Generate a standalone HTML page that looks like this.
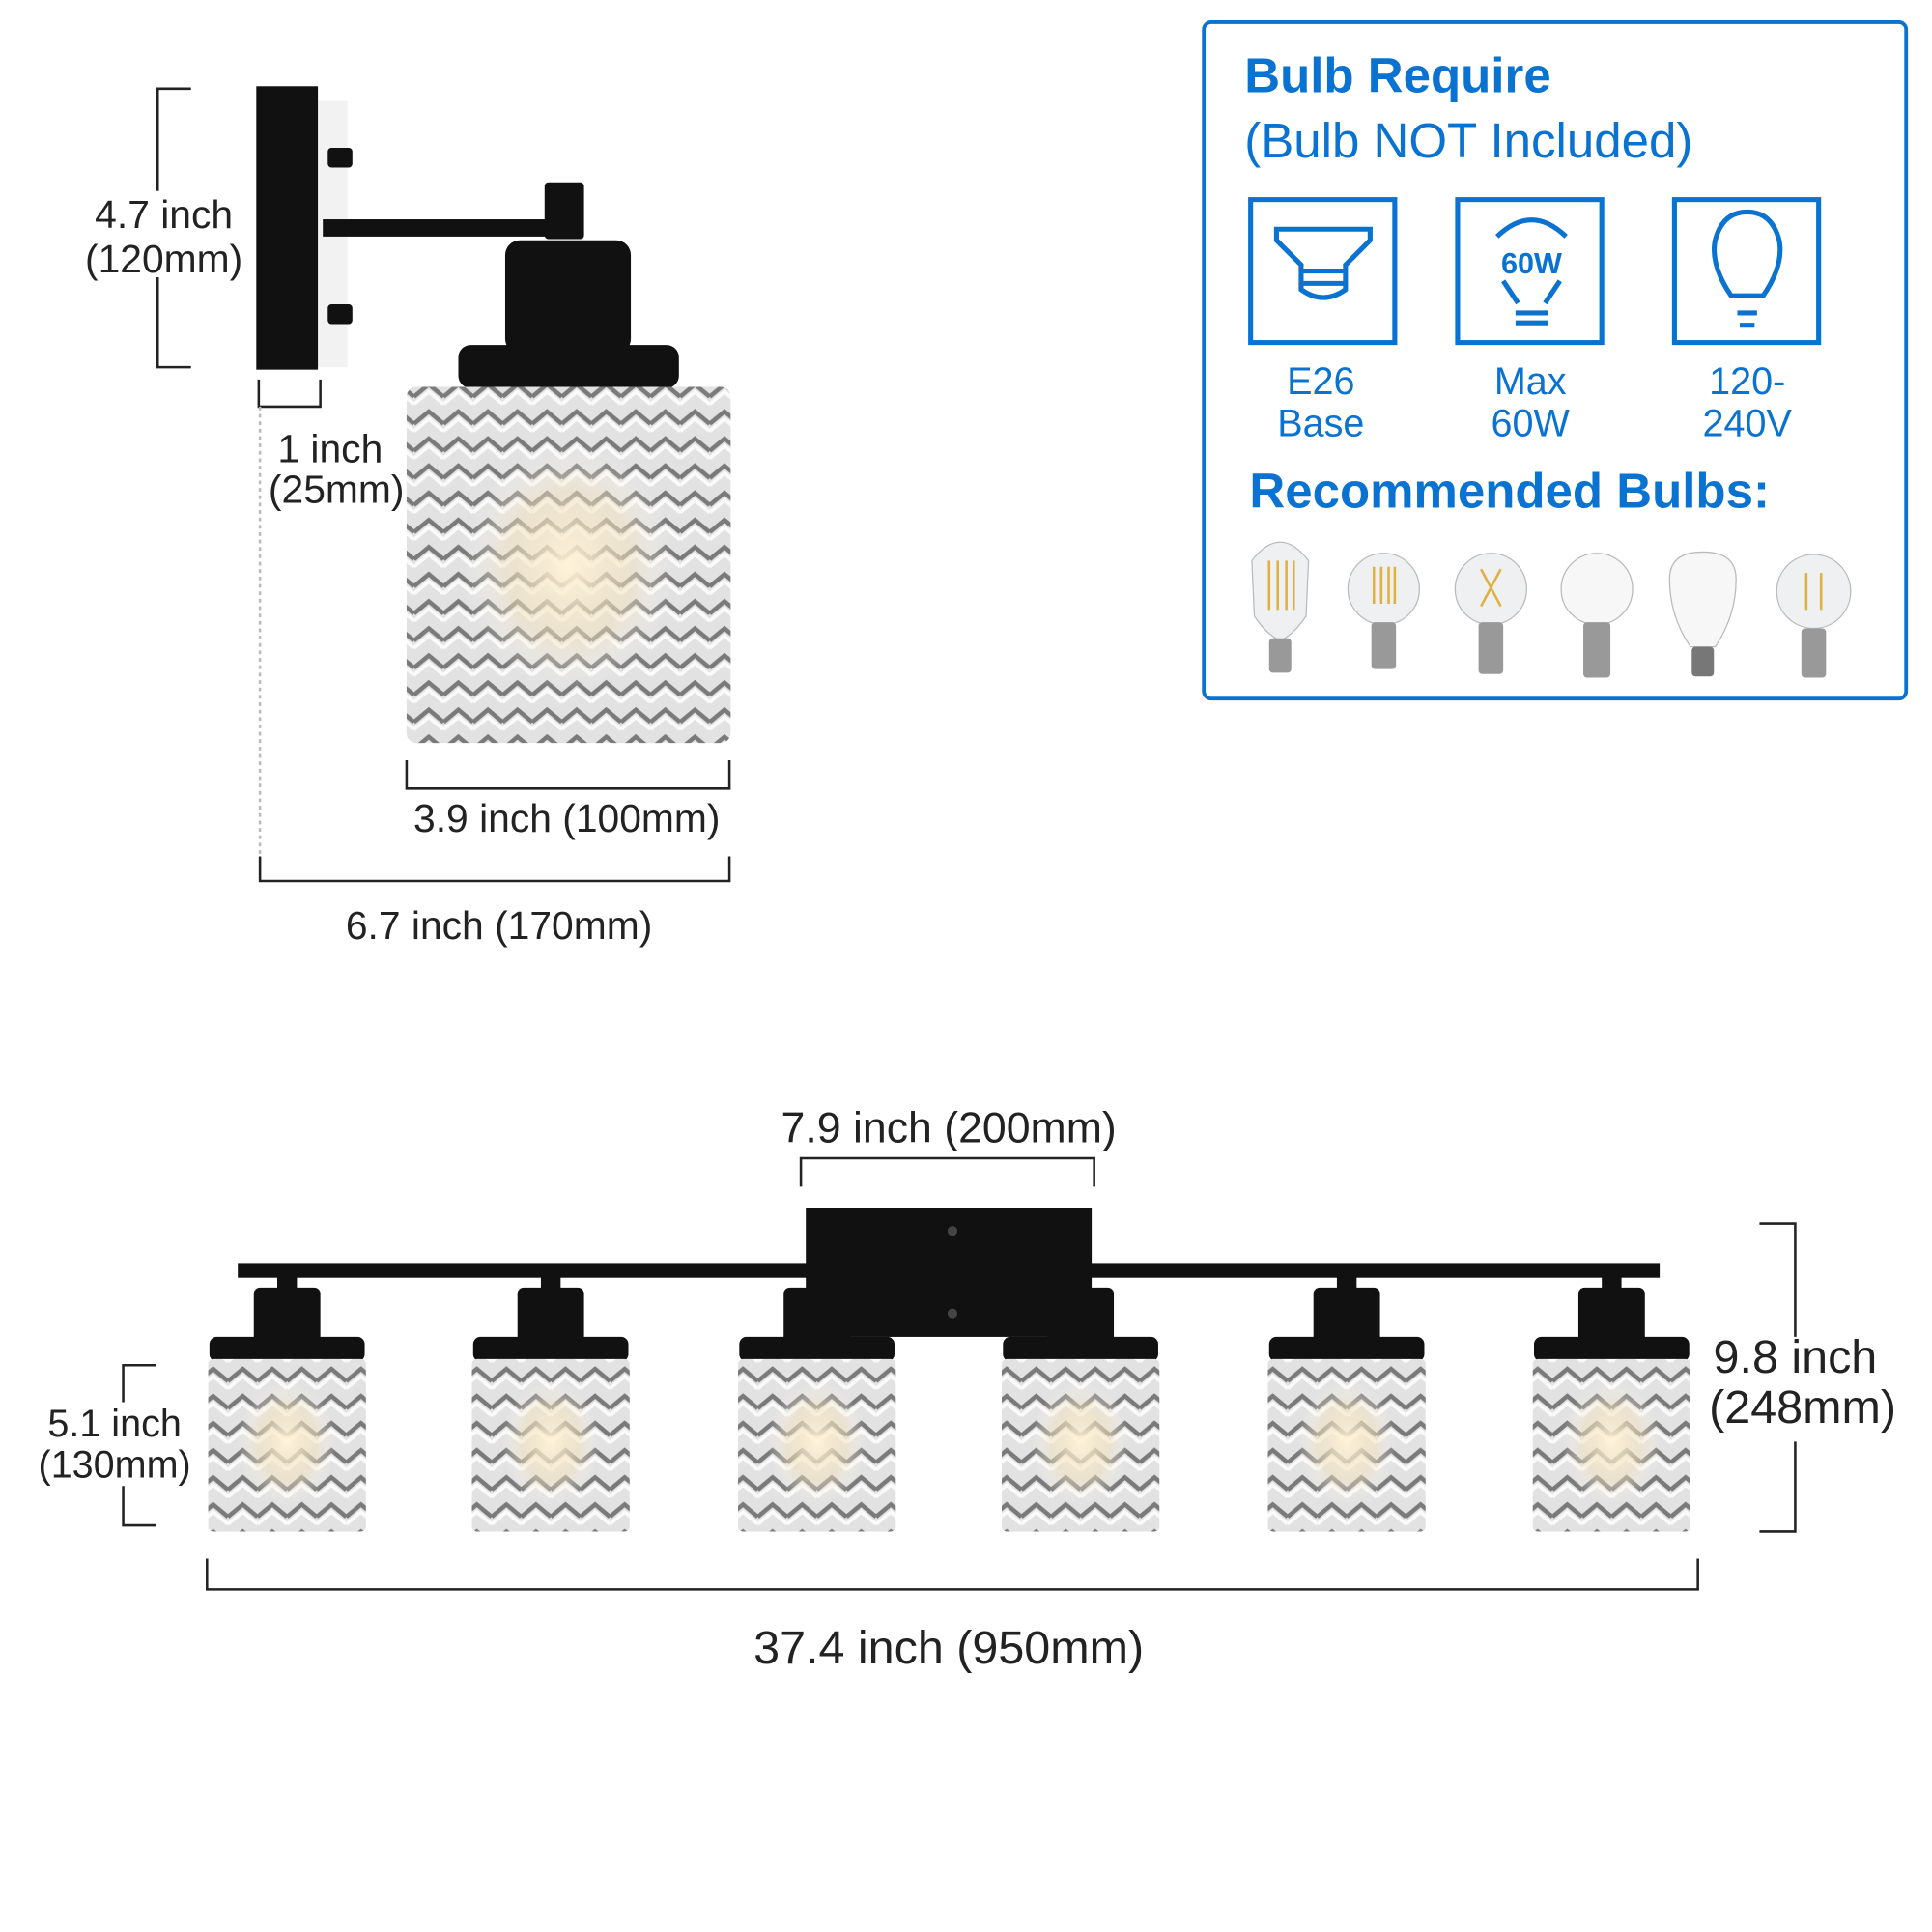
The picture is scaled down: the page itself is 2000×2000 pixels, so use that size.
<!DOCTYPE html>
<html><head><meta charset="utf-8"><style>html,body{margin:0;padding:0;background:#fff}svg{display:block}</style></head>
<body>
<svg width="2000" height="2000" viewBox="0 0 1568 1568" xmlns="http://www.w3.org/2000/svg" font-family="Liberation Sans, sans-serif">
<defs>
<pattern id="chev" width="24" height="22" patternUnits="userSpaceOnUse">
<rect width="24" height="22" fill="#e2e2e2"/>
<path d="M0 14 L12 4 L24 14" fill="none" stroke="#7a7a7a" stroke-width="3.5"/>
<path d="M0 20 L12 10 L24 20" fill="none" stroke="#fafafa" stroke-width="3"/>
</pattern>
<radialGradient id="glow" cx="0.5" cy="0.5" r="0.5">
<stop offset="0" stop-color="#fff4d8" stop-opacity="0.95"/>
<stop offset="0.6" stop-color="#f3e2bd" stop-opacity="0.5"/>
<stop offset="1" stop-color="#fff" stop-opacity="0"/>
</radialGradient>
<g id="shade">
<rect x="-8" y="-6" width="16" height="12" fill="#111"/>
<rect x="-27" y="4" width="54" height="46" rx="5" fill="#111"/>
<rect x="-63" y="44" width="126" height="20" rx="6" fill="#111"/>
<rect x="-64" y="62" width="128" height="140" rx="4" fill="url(#chev)"/>
<ellipse cx="0" cy="130" rx="40" ry="50" fill="url(#glow)"/>
</g>
</defs>

<rect x="258" y="82" width="24" height="216" fill="#f2f2f2"/>
<rect x="208" y="70" width="50" height="230" fill="#111"/>
<rect x="266" y="120" width="20" height="16" rx="3" fill="#111"/>
<rect x="266" y="247" width="20" height="16" rx="3" fill="#111"/>
<rect x="262" y="178" width="183" height="14" fill="#111"/>
<rect x="442" y="148" width="32" height="46" rx="3" fill="#111"/>
<rect x="410" y="195" width="102" height="92" rx="12" fill="#111"/>
<rect x="372" y="280" width="179" height="35" rx="10" fill="#111"/>
<rect x="330" y="314" width="263" height="289" rx="8" fill="url(#chev)"/>
<ellipse cx="462" cy="460" rx="85" ry="100" fill="url(#glow)"/>

<g stroke="#222" stroke-width="2" fill="none">
<path d="M155 72 H128 V298 H155"/>
<path d="M210 308 V330 H260 V308"/>
<path d="M211 330 V700" stroke="#bbb" stroke-dasharray="3 3"/>
<path d="M330 617 V640 H592 V617"/>
<path d="M211 695 V715 H592 V695"/>
</g>
<g font-size="32" fill="#222" text-anchor="middle">
<rect x="60" y="155" width="140" height="70" fill="#fff"/>
<text x="133" y="185">4.7 inch</text>
<text x="133" y="221">(120mm)</text>
<text x="268" y="375">1 inch</text>
<text x="273" y="408">(25mm)</text>
<text x="460" y="675">3.9 inch  (100mm)</text>
<text x="405" y="762">6.7 inch  (170mm)</text>
</g>

<rect x="977" y="18" width="570" height="549" rx="6" fill="none" stroke="#0a72d0" stroke-width="3"/>
<g fill="#0a72d0">
<text x="1010" y="75" font-size="40" font-weight="bold">Bulb Require</text>
<text x="1010" y="128" font-size="40">(Bulb NOT Included)</text>
<g font-size="31" text-anchor="middle">
<text x="1072" y="320">E26</text><text x="1072" y="354">Base</text>
<text x="1242" y="320">Max</text><text x="1242" y="354">60W</text>
<text x="1418" y="320">120-</text><text x="1418" y="354">240V</text>
</g>
<text x="1014" y="412" font-size="40" font-weight="bold">Recommended Bulbs:</text>
<text x="1243" y="222" font-size="24" font-weight="bold" text-anchor="middle">60W</text>
</g>
<g fill="none" stroke="#0a72d0" stroke-width="4">
<rect x="1015" y="162" width="117" height="116"/>
<rect x="1183" y="162" width="117" height="116"/>
<rect x="1359" y="162" width="117" height="116"/>
<path d="M1036 186 H1112 V195 L1092 215 V235 Q1074 248 1056 235 V215 L1036 195 Z"/>
<path d="M1056 220 H1092 M1056 230 H1092"/>
<path d="M1215 192 Q1243 165 1271 192 M1220 228 L1232 246 M1266 228 L1254 246 M1230 254 H1256 M1230 262 H1256"/>
<path d="M1405 240 Q1388 215 1392 195 Q1398 172 1418 172 Q1438 172 1444 195 Q1448 215 1431 240 Z M1410 254 H1426 M1412 264 H1424"/>
</g>
<g>
<g fill="#eef0f2" stroke="#bbb" stroke-width="1">
<path d="M1016 455 Q1039 425 1062 455 L1060 500 Q1050 515 1039 520 Q1028 515 1018 500 Z"/>
<circle cx="1123" cy="478" r="29"/>
<circle cx="1210" cy="478" r="29"/>
<circle cx="1296" cy="478" r="29" fill="#f7f7f7"/>
<path d="M1355 470 Q1355 448 1382 448 Q1409 448 1409 470 Q1409 500 1392 525 H1372 Q1355 500 1355 470Z" fill="#f7f7f7"/>
<circle cx="1472" cy="480" r="30"/>
</g>
<g stroke="#e0b040" stroke-width="2">
<path d="M1030 455 V495 M1037 455 V495 M1044 455 V495 M1050 455 V495"/>
<path d="M1115 460 V490 M1121 460 V490 M1127 460 V490 M1132 460 V490"/>
<path d="M1202 462 L1218 492 M1218 462 L1202 492"/>
<path d="M1466 465 V495 M1478 465 V495"/>
</g>
<g fill="#999">
<rect x="1030" y="518" width="18" height="28" rx="3"/>
<rect x="1113" y="505" width="20" height="38" rx="3"/>
<rect x="1200" y="505" width="20" height="42" rx="3"/>
<rect x="1285" y="505" width="22" height="45" rx="3"/>
<rect x="1373" y="525" width="18" height="24" rx="3" fill="#777"/>
<rect x="1462" y="510" width="20" height="40" rx="3"/>
</g>
</g>

<rect x="654" y="980" width="232" height="105" fill="#111"/>
<rect x="193" y="1025" width="1154" height="12" fill="#111"/>
<use href="#shade" x="233" y="1041"/>
<use href="#shade" x="447" y="1041"/>
<use href="#shade" x="663" y="1041"/>
<use href="#shade" x="877" y="1041"/>
<use href="#shade" x="1093" y="1041"/>
<use href="#shade" x="1308" y="1041"/>
<circle cx="773" cy="999" r="4" fill="#444"/>
<circle cx="773" cy="1066" r="4" fill="#444"/>

<g stroke="#222" stroke-width="2" fill="none">
<path d="M650 963 V940 H888 V963"/>
<path d="M1428 993 H1457 V1085 M1457 1170 V1243 H1428"/>
<path d="M127 1108 H100 V1238 H127"/>
<path d="M168 1265 V1290 H1378 V1265"/>
</g>
<g fill="#222" text-anchor="middle">
<text x="770" y="927" font-size="35">7.9 inch (200mm)</text>
<text x="1457" y="1114" font-size="38">9.8 inch</text>
<text x="1463" y="1155" font-size="38">(248mm)</text>
<rect x="30" y="1138" width="126" height="68" fill="#fff"/>
<text x="93" y="1166" font-size="31">5.1 inch</text>
<text x="93" y="1199" font-size="31">(130mm)</text>
<text x="770" y="1350" font-size="38">37.4 inch (950mm)</text>
</g>
</svg>
</body></html>
